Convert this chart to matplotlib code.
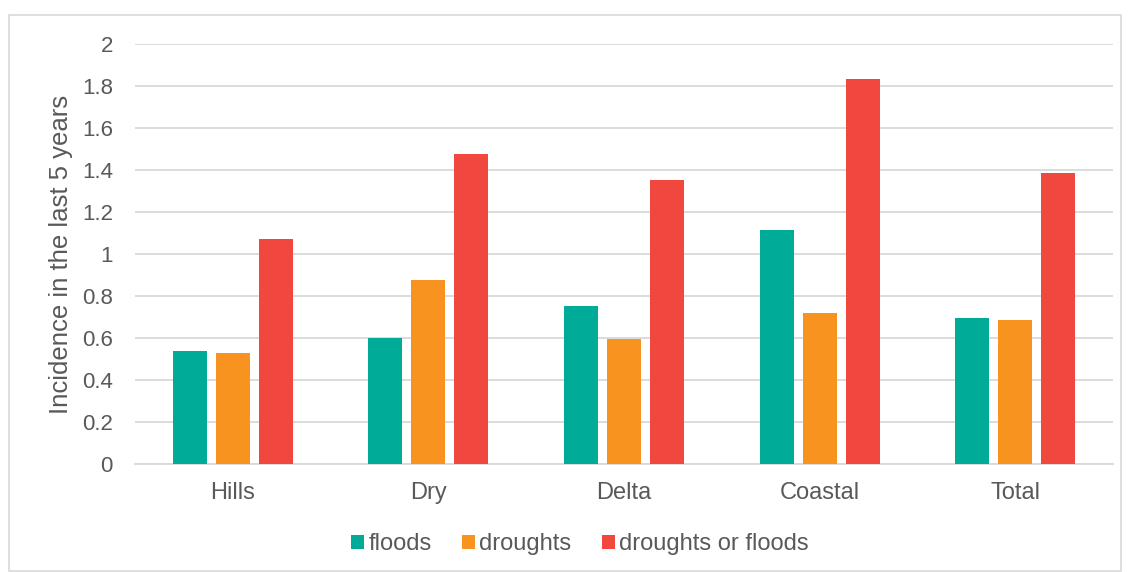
import matplotlib.pyplot as plt
import numpy as np
from matplotlib.patches import Rectangle

regions = ['Hills', 'Dry', 'Delta', 'Coastal', 'Total']
floods = [0.538, 0.60, 0.752, 1.113, 0.697]
droughts = [0.530, 0.876, 0.595, 0.719, 0.686]
either = [1.071, 1.476, 1.352, 1.833, 1.386]

series = [('floods', floods, '#00ac98'),
          ('droughts', droughts, '#f7931e'),
          ('droughts or floods', either, '#f0483e')]

plt.rcParams['font.family'] = ['Liberation Sans', 'DejaVu Sans']
txt = '#595959'

fig = plt.figure(figsize=(11.28, 5.72), dpi=100)
ax = fig.add_axes([135 / 1128, 1 - 464 / 572, 978 / 1128, 420 / 572])

x = np.arange(len(regions))
w = 0.174
step = 0.22
for i, (name, vals, col) in enumerate(series):
    ax.bar(x + (i - 1) * step, vals, width=w, color=col, label=name, zorder=3)

ax.set_xlim(-0.5, len(regions) - 0.5)
ax.set_ylim(0, 2)
ax.set_yticks(np.arange(0, 2.01, 0.2))
ax.set_yticklabels(['0', '0.2', '0.4', '0.6', '0.8', '1', '1.2', '1.4', '1.6', '1.8', '2'])
ax.set_xticks(x)
ax.set_xticklabels(regions)
ax.tick_params(axis='both', length=0, colors=txt)
ax.tick_params(axis='y', pad=16, labelsize=16)
ax.tick_params(axis='x', pad=13, labelsize=17)
ax.grid(axis='y', color='#d9d9d9', linewidth=1.3, zorder=0)
for s in ['top', 'right', 'left']:
    ax.spines[s].set_visible(False)
ax.spines['bottom'].set_color('#d9d9d9')
ax.spines['bottom'].set_linewidth(1.3)
ax.set_ylabel('Incidence in the last 5 years', fontsize=18.5, color=txt, labelpad=6)

ax.legend(loc='center', bbox_to_anchor=(580 / 1128, 1 - 544 / 572), bbox_transform=fig.transFigure,
          ncol=3, frameon=False, fontsize=17, labelcolor=txt, handlelength=0.55, handleheight=0.55,
          handletextpad=0.18, columnspacing=1.3)

fig.patches.append(Rectangle((9 / 1128, 0.002), 1112 / 1128, 1 - 15 / 572 - 0.002,
                             transform=fig.transFigure, fill=False, edgecolor='#d9d9d9', linewidth=1.2))

fig.savefig('out.png', dpi=100)
